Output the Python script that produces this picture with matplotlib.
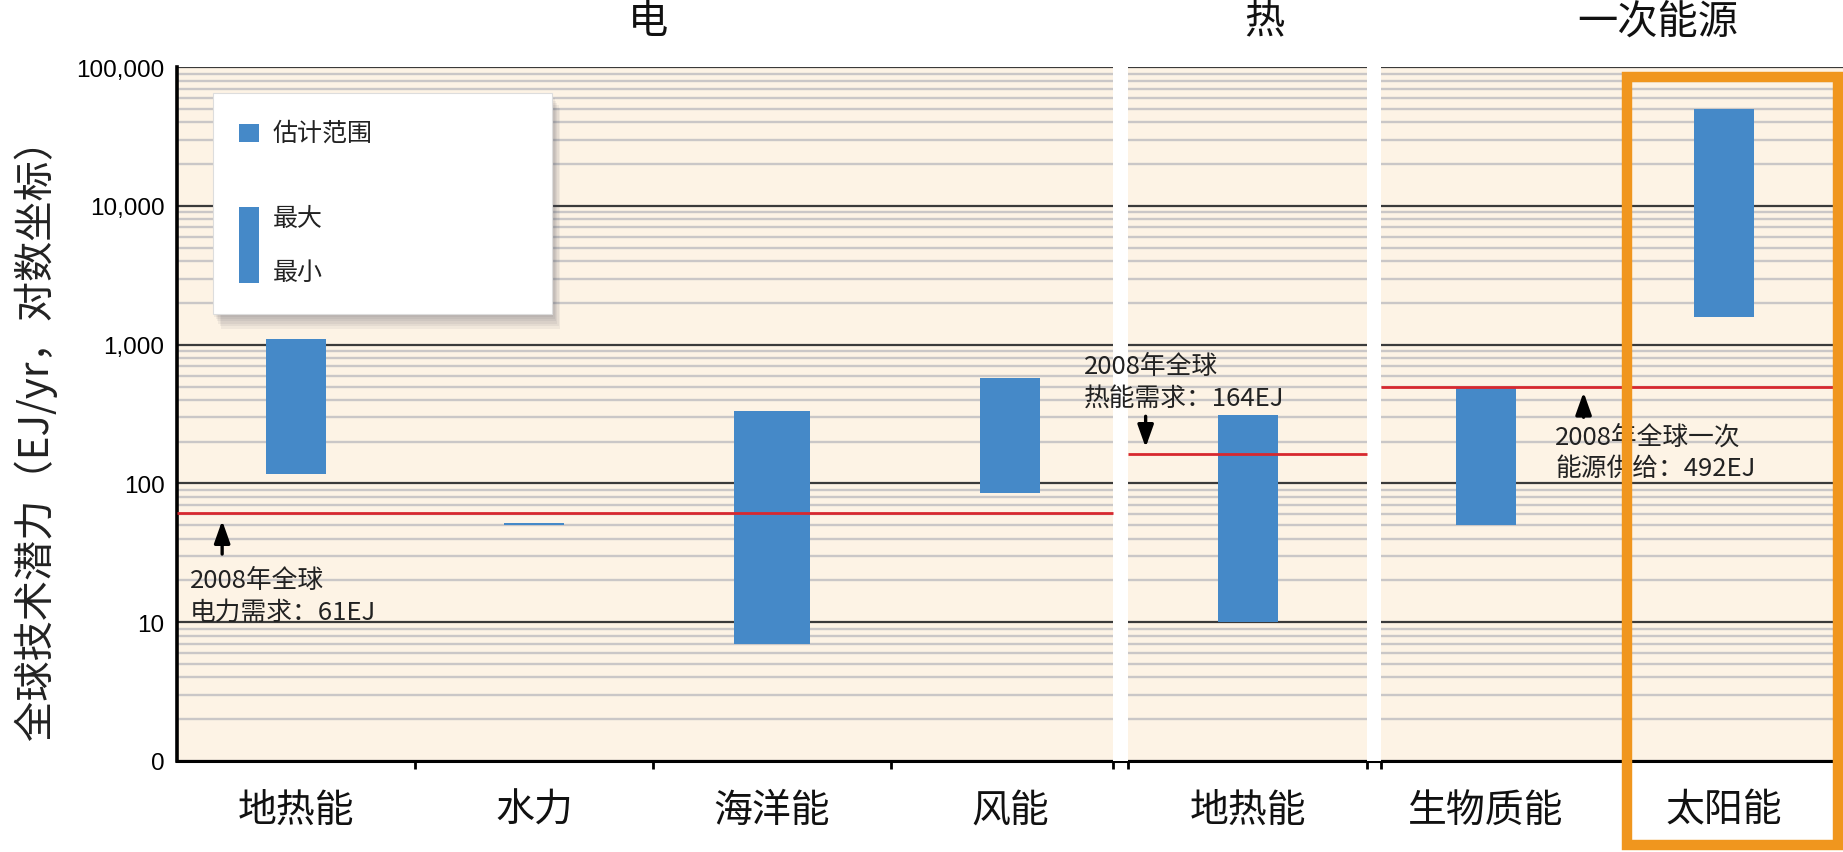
import numpy as np
import matplotlib
matplotlib.use("Agg")
import matplotlib.pyplot as plt
from matplotlib.patches import Rectangle

plt.rcParams['font.family'] = ['Noto Sans CJK SC', 'DejaVu Sans']

# technical potential ranges, EJ/yr
categories = ["地热能", "水力", "海洋能", "风能", "地热能", "生物质能", "太阳能"]
pot_min = [118, 50, 7, 85, 10, 50, 1575]
pot_max = [1109, 52, 331, 580, 312, 500, 49837]

# 2008 global demand / supply, EJ
demand_elec = 61
demand_heat = 164
supply_primary = 492

sections = ["电", "热", "一次能源"]
ytick_vals = [1, 10, 100, 1000, 10000, 100000]
ytick_labels = ["0", "10", "100", "1,000", "10,000", "100,000"]

BLUE = "#4589c8"
RED = "#d7282f"
BG = "#fdf3e5"
ORANGE = "#f0961e"

fig = plt.figure(figsize=(18.43, 8.53), dpi=100)
ax = fig.add_axes([0.096, 0.1067, 0.904, 0.8133])
ax.set_facecolor(BG)
ax.set_yscale("log")
ax.set_ylim(1, 1e5)
ax.set_xlim(0, 7)

# grid: dark decades, grey minors
ax.set_yticks(ytick_vals)
ax.set_yticklabels(ytick_labels, family=["Liberation Sans", "DejaVu Sans"], fontsize=17.5)
ax.yaxis.set_minor_locator(matplotlib.ticker.LogLocator(base=10, subs=np.arange(2, 10)))
ax.yaxis.set_minor_formatter(matplotlib.ticker.NullFormatter())
ax.grid(True, which="major", axis="y", color="#3a3a3a", lw=1.6, zorder=0.6)
ax.grid(True, which="minor", axis="y", color="#cac7c7", lw=1.7, zorder=0.5)
ax.set_axisbelow(True)
ax.tick_params(axis="y", which="both", length=0, pad=9)

for s in ["top", "right"]:
    ax.spines[s].set_visible(False)
ax.spines["left"].set_linewidth(2.6)
ax.spines["bottom"].set_linewidth(2.2)

# category separators / section edges on the x axis
gaps = [(3.935, 3.995), (5.0, 5.06)]
ax.set_xticks([1, 2, 3] + [g for pair in gaps for g in pair])
ax.set_xticklabels([])
ax.tick_params(axis="x", length=6, width=2)

# bars
xs = np.arange(len(categories)) + 0.5
widths = [0.25, 0.25, 0.32, 0.25, 0.25, 0.25, 0.25]
ax.bar(xs, np.array(pot_max) - np.array(pot_min), bottom=pot_min, width=widths,
       color=BLUE, zorder=3)

# white gaps between sections
for g0, g1 in gaps:
    ax.add_patch(Rectangle((g0, 0), g1 - g0, 1, transform=ax.get_xaxis_transform(),
                           facecolor="white", edgecolor="none", zorder=2.7,
                           clip_on=False))

# reference lines
ax.hlines(demand_elec, 0, gaps[0][0], color=RED, lw=2, zorder=4)
ax.hlines(demand_heat, gaps[0][1], gaps[1][0], color=RED, lw=2, zorder=4)
ax.hlines(supply_primary, gaps[1][1], 7, color=RED, lw=2, zorder=4)

ann_kw = dict(fontsize=18.5, color="#222222", zorder=5, linespacing=1.25)
arrow_kw = dict(arrowstyle="-|>,head_length=0.9,head_width=0.32", color="black",
                lw=2.4, mutation_scale=15, shrinkA=0, shrinkB=0)

ax.annotate("", xy=(0.19, 54), xytext=(0.19, 31), arrowprops=arrow_kw, zorder=5)
ax.text(0.055, 15.5, "2008年全球\n电力需求：%dEJ" % demand_elec, va="center", ha="left", **ann_kw)

ax.annotate("", xy=(4.07, 182), xytext=(4.07, 305), arrowprops=arrow_kw, zorder=5)
ax.text(3.81, 540, "2008年全球\n热能需求：%dEJ" % demand_heat, va="center", ha="left", **ann_kw)

ax.annotate("", xy=(5.91, 455), xytext=(5.91, 300), arrowprops=arrow_kw, zorder=5)
ax.text(5.79, 167, "2008年全球一次\n能源供给：%dEJ" % supply_primary, va="center", ha="left", **ann_kw)

# legend box with soft shadow
lx0, ly0, lw_, lh_ = 0.0216, 0.644, 0.2035, 0.3185
for i in range(6):
    dx = 0.0008 * (i + 1)
    dy = 0.0035 * (i + 1)
    ax.add_patch(Rectangle((lx0 + dx, ly0 - dy), lw_, lh_,
                           transform=ax.transAxes, facecolor="#4a4a5a", alpha=0.07,
                           edgecolor="none", zorder=5))
ax.add_patch(Rectangle((lx0, ly0), lw_, lh_, transform=ax.transAxes,
                       facecolor="white", edgecolor="#dddddd", lw=0.8, zorder=6))
ax.add_patch(Rectangle((0.0372, 0.8925), 0.012, 0.026, transform=ax.transAxes,
                       facecolor=BLUE, edgecolor="none", zorder=7))
ax.add_patch(Rectangle((0.0372, 0.6885), 0.012, 0.1095, transform=ax.transAxes,
                       facecolor=BLUE, edgecolor="none", zorder=7))
leg_kw = dict(transform=ax.transAxes, fontsize=18, va="center", ha="left",
              color="#222222", zorder=7)
ax.text(0.0575, 0.905, "估计范围", **leg_kw)
ax.text(0.0575, 0.783, "最大", **leg_kw)
ax.text(0.0575, 0.705, "最小", **leg_kw)

# category labels
for x, name in zip(xs, categories):
    ax.text(x, -0.07, name, transform=ax.get_xaxis_transform(), ha="center",
            va="center", fontsize=28, color="#111111")

# section titles
for x, name in zip([1.98, 4.57, 6.22], sections):
    ax.text(x, 1.067, name, transform=ax.get_xaxis_transform(), ha="center",
            va="center", fontsize=29, color="#111111")

fig.text(0.019, 0.497, "全球技术潜力（EJ/yr，对数坐标）", rotation=90,
         ha="center", va="center", fontsize=29, color="#222222")

# highlight frame round the solar column
fig.add_artist(Rectangle((1627 / 1843, 1 - 846 / 853), 211 / 1843, 768 / 853,
                         transform=fig.transFigure, facecolor="none",
                         edgecolor=ORANGE, lw=7.5, zorder=10))

fig.savefig("out.png", dpi=100, facecolor="white")
